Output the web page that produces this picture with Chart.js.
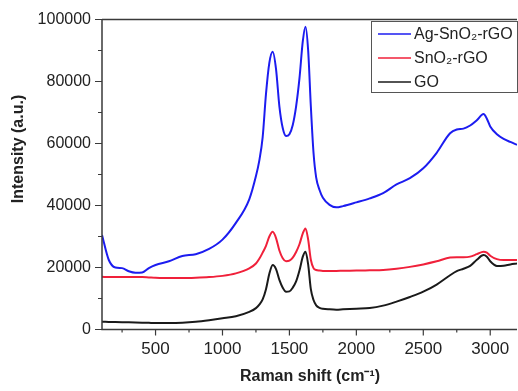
<!DOCTYPE html>
<html>
<head>
<meta charset="utf-8">
<script src="https://cdn.jsdelivr.net/npm/chart.js@4/dist/chart.umd.min.js"></script>
<style>
html,body{margin:0;padding:0;background:#fff;}
#wrap{width:518px;height:391px;position:relative;}
</style>
</head>
<body>
<div id="wrap"><canvas id="c" width="518" height="391"></canvas></div>
<script>
// Raman shift grid (cm-1)
const ramanShift = [100,150,200,250,300,350,400,450,500,600,700,800,900,1000,1100,1200,1250,1275,1300,1325,1350,1375,1400,1425,1450,1475,1500,1525,1550,1575,1600,1620,1640,1660,1680,1700,1725,1750,1800,1850,1900,2000,2100,2200,2300,2400,2500,2600,2700,2750,2800,2850,2900,2950,2975,3000,3050,3100,3150,3200];
const agSnO2rGO = [30500,22500,20000,19800,18800,18300,18400,19800,20800,22000,23700,24300,26000,29000,34400,42000,49500,54500,62000,76000,86000,89600,84000,72000,65000,62400,63000,66000,72000,81000,93000,97700,90000,72000,57000,49000,45000,42500,40200,39400,39800,41000,42300,44000,46800,48800,52000,57000,63300,64500,64800,65800,67500,69500,68000,65500,63000,61500,60500,59600];
const snO2rGO = [17000,16900,16900,16900,16900,16900,16900,16800,16700,16600,16600,16700,16900,17300,18100,19700,21300,22800,24800,27000,30000,31500,29500,25500,23000,22000,22200,23200,25000,27500,31000,32600,29000,22500,19800,19200,19000,18900,18900,18900,18950,19000,19100,19200,19600,20200,21000,22000,23200,23300,23300,23500,24300,25100,24800,23800,22700,22400,22400,22400];
const go = [2500,2450,2400,2350,2300,2250,2200,2150,2100,2100,2200,2500,3000,3600,4300,5700,6900,8000,9700,13000,18000,20800,19500,16000,13500,12200,12300,13500,15500,19000,23500,25100,21000,13000,9500,7800,7000,6700,6500,6400,6500,6700,6900,7700,9000,10500,12200,14500,17500,18800,19600,20500,22500,24000,23500,22000,20500,20600,21000,21300];
const seriesLabels = ['Ag-SnO\u2082-rGO','SnO\u2082-rGO','GO'];
const xMajorTicks = [500,1000,1500,2000,2500,3000];
const yMajorTicks = [0,20000,40000,60000,80000,100000];
const xTitle = 'Raman shift (cm\u207B\u00B9)';
const yTitle = 'Intensity (a.u.)';

const colors = ['#1c1cf0','#f0203a','#1a1a1a'];
const pts = arr => arr.map((v,i)=>({x:ramanShift[i], y:v}));

const axisColor = '#3a3a3a';
const FONT = '"Liberation Sans", Arial, sans-serif';

const decor = {
  id:'decor',
  afterDraw(chart){
    const ctx = chart.ctx, a = chart.chartArea;
    const xs = chart.scales.x, ys = chart.scales.y;
    ctx.save();
    ctx.strokeStyle = axisColor; ctx.lineWidth = 1.5;
    ctx.beginPath();
    ctx.moveTo(a.left, a.top); ctx.lineTo(a.left, a.bottom); ctx.lineTo(a.right, a.bottom);
    ctx.moveTo(a.left, a.top); ctx.lineTo(a.right, a.top);
    ctx.stroke();
    ctx.lineWidth = 1.2;
    ctx.beginPath();
    for (let v = 250; v <= 3200; v += 250) {
      const px = xs.getPixelForValue(v);
      const major = v % 500 === 0;
      ctx.moveTo(px, a.bottom); ctx.lineTo(px, a.bottom + (major ? 6 : 3));
    }
    for (let v = 0; v <= 100000; v += 10000) {
      const py = ys.getPixelForValue(v);
      const major = v % 20000 === 0;
      ctx.moveTo(a.left, py); ctx.lineTo(a.left - (major ? 7 : 4), py);
    }
    ctx.stroke();
    ctx.fillStyle = '#222';
    ctx.font = '17px ' + FONT;
    ctx.textAlign = 'center'; ctx.textBaseline = 'middle';
    xMajorTicks.forEach(v => ctx.fillText(String(v), xs.getPixelForValue(v), 349));
    ctx.font = '16px ' + FONT;
    ctx.textAlign = 'right';
    yMajorTicks.forEach(v => ctx.fillText(String(v), 91, ys.getPixelForValue(v)));
    ctx.font = 'bold 16px ' + FONT;
    ctx.textAlign = 'center';
    ctx.fillText(xTitle, 310, 377);
    ctx.save();
    ctx.translate(19, 149); ctx.rotate(-Math.PI/2);
    ctx.fillText(yTitle, 0, 0);
    ctx.restore();
    const lx = 371, ly = 21, lw = 146, lh = 71;
    ctx.fillStyle = '#fff';
    ctx.fillRect(lx, ly, lw, lh);
    ctx.strokeStyle = '#555'; ctx.lineWidth = 1;
    ctx.strokeRect(lx + 0.5, ly + 0.5, lw, lh);
    ctx.font = '16px ' + FONT; ctx.textAlign = 'left';
    chart.data.datasets.forEach((ds, i) => {
      const y = ly + 13 + i * 24;
      ctx.strokeStyle = ds.borderColor; ctx.lineWidth = 1.5;
      ctx.beginPath(); ctx.moveTo(lx + 7, y); ctx.lineTo(lx + 40, y); ctx.stroke();
      ctx.fillStyle = '#222';
      ctx.fillText(ds.label, lx + 43, y + 1);
    });
    ctx.restore();
  }
};

new Chart(document.getElementById('c'), {
  type:'line',
  data:{
    datasets:[
      {label:seriesLabels[0], data:pts(agSnO2rGO), borderColor:colors[0], borderWidth:2},
      {label:seriesLabels[1], data:pts(snO2rGO), borderColor:colors[1], borderWidth:2},
      {label:seriesLabels[2], data:pts(go), borderColor:colors[2], borderWidth:2}
    ]
  },
  options:{
    responsive:false, animation:false,
    layout:{padding:{top:19.5, right:1, left:0, bottom:0}},
    elements:{point:{radius:0}, line:{cubicInterpolationMode:'monotone', fill:false}},
    plugins:{legend:{display:false}, tooltip:{enabled:false}},
    scales:{
      x:{type:'linear', min:100, max:3200,
         grid:{display:false, drawTicks:false}, border:{display:false},
         ticks:{display:false},
         afterFit(s){ s.height = 61.5; }},
      y:{type:'linear', min:0, max:100000,
         grid:{display:false, drawTicks:false}, border:{display:false},
         ticks:{display:false},
         afterFit(s){ s.width = 102; }}
    }
  },
  plugins:[decor]
});
</script>
</body>
</html>
